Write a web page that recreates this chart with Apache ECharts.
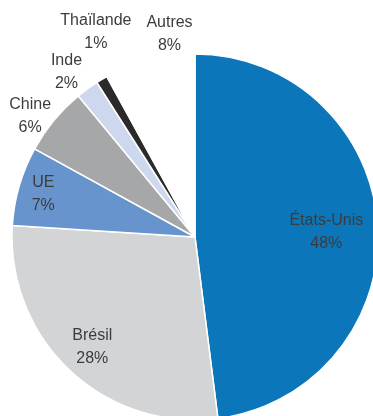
<!DOCTYPE html>
<html>
<head>
<meta charset="utf-8">
<style>
  html, body { margin: 0; padding: 0; background: #ffffff; }
  #chart { width: 373px; height: 416px; }
</style>
<script src="https://cdn.jsdelivr.net/npm/echarts@6/dist/echarts.min.js"></script>
</head>
<body>
<div id="chart"></div>
<script>
// Data
var categories = ['États-Unis', 'Brésil', 'UE', 'Chine', 'Inde', 'Thaïlande', 'Autres'];
var values = [48, 28, 7, 6, 2, 1, 8];

// Styling (kept separate from data)
var colors = ['#0b76ba', '#d3d4d6', '#6894cd', '#a6a7a9', '#cdd8ee', '#2a2a2a', '#ffffff'];
var labelOffsets = [[37, 1], [-38, 41], [-61, -17], [-92, -61], [-73, -88], [-51, -124], [-2, -111]];

var chart = echarts.init(document.getElementById('chart'), null, { renderer: 'canvas' });

var data = categories.map(function (name, i) {
  return {
    name: name,
    value: values[i],
    itemStyle: { color: colors[i] },
    label: { offset: labelOffsets[i] }
  };
});

chart.setOption({
  backgroundColor: '#ffffff',
  animation: false,
  series: [{
    type: 'pie',
    center: [195, 237],
    radius: [0, 183],
    startAngle: 90,
    clockwise: true,
    avoidLabelOverlap: false,
    silent: true,
    itemStyle: { borderColor: '#ffffff', borderWidth: 1.5 },
    label: {
      show: true,
      position: 'inside',
      formatter: function (p) { return p.name + '\n' + p.value + '%'; },
      color: '#3c3c3c',
      fontFamily: 'Liberation Sans, Arial, sans-serif',
      fontSize: 16,
      lineHeight: 23,
      align: 'center',
      verticalAlign: 'middle'
    },
    labelLayout: { hideOverlap: false },
    labelLine: { show: false },
    emphasis: { disabled: true },
    data: data
  }]
});
</script>
</body>
</html>
